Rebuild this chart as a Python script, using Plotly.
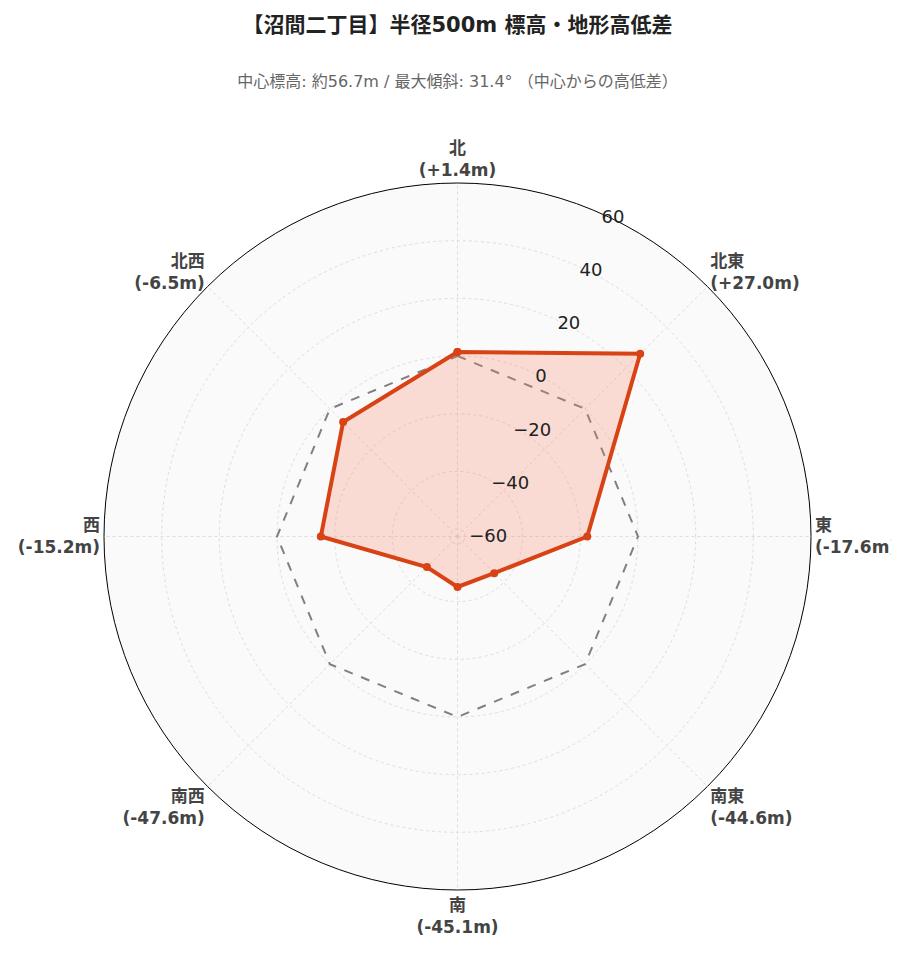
import plotly.graph_objects as go

directions = ["北", "北東", "東", "南東", "南", "南西", "西", "北西"]
diffs = [1.4, 27.0, -17.6, -44.6, -45.1, -47.6, -15.2, -6.5]
angles = [0, 45, 90, 135, 180, 225, 270, 315]

labels = [f"<b>{d}<br>({v:+.1f}m)</b>" for d, v in zip(directions, diffs)]

fig = go.Figure()
fig.add_trace(go.Scatterpolar(
    r=[0] * 9, theta=angles + [0], mode="lines",
    line=dict(color="gray", dash="dash", width=2), showlegend=False, hoverinfo="skip"))
fig.add_trace(go.Scatterpolar(
    r=diffs + [diffs[0]], theta=angles + [0], mode="lines+markers",
    fill="toself", fillcolor="rgba(250,128,100,0.25)",
    line=dict(color="#d84315", width=4), marker=dict(size=8, color="#d84315"),
    showlegend=False))

fig.update_layout(
    width=899, height=962,
    paper_bgcolor="white",
    font=dict(family="DejaVu Sans, Noto Sans CJK JP", size=16, color="#333"),
    title=dict(text="<b>【沼間二丁目】半径500m 標高・地形高低差</b><br><br>"
                    "<span style='font-size:16px;color:#666'>中心標高: 約56.7m / 最大傾斜: 31.4° （中心からの高低差）</span>",
               x=0.5, y=0.975, font=dict(size=21, color="#222")),
    margin=dict(l=95, r=95, t=175, b=80),
    polar=dict(
        bgcolor="#fafafa",
        domain=dict(x=[0, 1], y=[0, 1]),
        angularaxis=dict(rotation=90, direction="clockwise", tickvals=angles, ticktext=labels,
                         tickfont=dict(size=17, color="#444"), showline=True, linecolor="black",
                         gridcolor="#ddd", griddash="dot", ticks=""),
        radialaxis=dict(range=[-62.6, 60], tickvals=[-60, -40, -20, 0, 20, 40, 60],
                        angle=67.5, tickangle=67.5, showline=False, gridcolor="#ddd", griddash="dot",
                        tickfont=dict(size=18, color="#222"), ticks=""),
    ),
)
fig.write_html("out.html")
